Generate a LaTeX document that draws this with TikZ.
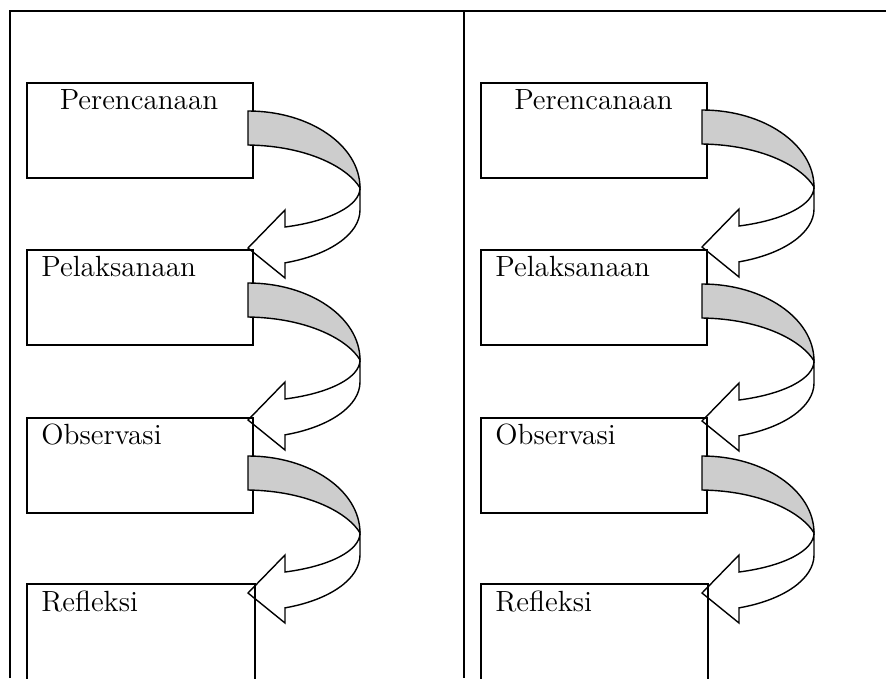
\documentclass[tikz,border=0pt]{standalone}
\usepackage{fontspec}
\usepackage{tikz}
\usepackage{xcolor}

\definecolor{bandgray}{HTML}{CDCDCD}

\tikzset{
  rule/.style={line width=1.1pt},
  stage/.style={draw, line width=1.1pt, anchor=north west, inner sep=0pt,
    minimum width=113pt, minimum height=47.5pt},
  stagetext/.style={anchor=base west, inner sep=0pt,
    font=\fontsize{14.6}{17}\selectfont},
  bandfill/.style={draw, fill=bandgray, line width=0.7pt},
  frontfill/.style={draw, fill=white, line width=0.7pt},
  turnarrow/.pic={
    % back of the arrow (grey band)
    \path[bandfill] (0,0) arc[start angle=-90, end angle=0, x radius=112, y radius=77]
      .. controls (101,58) and (62,35) .. (0,34) -- cycle;
    % front of the arrow with its head
    \path[frontfill] (112,77) -- (112,99)
      arc[start angle=0, end angle=70.7, x radius=112, y radius=56]
      -- (37,167) -- (0,137) -- (37,99) -- (37,116)
      arc[start angle=70.7, end angle=0, x radius=112, y radius=41.3] -- cycle;
  }
}

\begin{document}
\begin{tikzpicture}[x=0.5pt, y=-0.5pt]
  \useasboundingbox (0,0) rectangle (886,678);
  \clip (0,0) rectangle (886,678);

  % Table lines
  \draw[rule] (10,678) -- (10,11) -- (886,11);
  \draw[rule] (464,11) -- (464,678);

  % Left column
  \node[stage] (plan1) at (26,82) {};
  \node[stagetext, anchor=base] (plan1txt) at (139,110) {Perencanaan};
  \pic at (248,111) {turnarrow};
  \node[stage] (act1) at (26,249) {};
  \node[stagetext] (act1txt) at (41,277) {Pelaksanaan};
  \pic at (248,283) {turnarrow};
  \node[stage] (obs1) at (26,417) {};
  \node[stagetext] (obs1txt) at (41,444) {Observasi};
  \pic at (248,456) {turnarrow};
  \node[stage, minimum width=114pt, minimum height=60pt] (ref1) at (26,583) {};
  \node[stagetext] (ref1txt) at (41,611) {Refleksi};

  % Right column
  \node[stage] (plan2) at (480,82) {};
  \node[stagetext, anchor=base] (plan2txt) at (593.5,110) {Perencanaan};
  \pic at (702,110) {turnarrow};
  \node[stage] (act2) at (480,249) {};
  \node[stagetext] (act2txt) at (495,277) {Pelaksanaan};
  \pic at (702,284) {turnarrow};
  \node[stage] (obs2) at (480,417) {};
  \node[stagetext] (obs2txt) at (495,444) {Observasi};
  \pic at (702,456) {turnarrow};
  \node[stage, minimum width=113.5pt, minimum height=60pt] (ref2) at (480,583) {};
  \node[stagetext] (ref2txt) at (495,611) {Refleksi};
\end{tikzpicture}
\end{document}
